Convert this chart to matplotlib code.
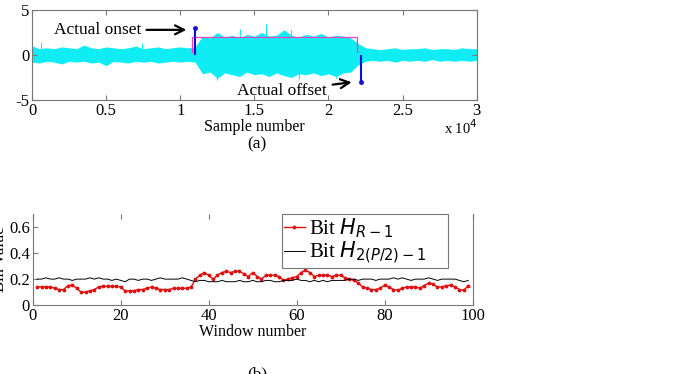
import numpy as np
import matplotlib.pyplot as plt

plt.rcParams['font.family'] = ['Liberation Serif', 'DejaVu Serif']
plt.rcParams['mathtext.fontset'] = 'dejavusans'
plt.rcParams['axes.unicode_minus'] = False

# (a) signal envelope, read every 500 samples
sample_step = 500
upper_env = [1.0, 0.7, 0.8, 0.7, 0.9, 0.8, 0.7, 1.1, 0.8, 0.7, 0.9, 0.8, 0.7, 0.8, 1.0, 0.7,
             0.8, 0.9, 0.7, 0.8, 0.9, 0.8,
             0.9, 2.1, 1.9, 2.5, 2.0, 2.2, 1.9, 2.3, 2.1, 2.5, 2.1, 2.2, 2.8, 2.2, 2.0, 2.3,
             2.1, 2.4, 2.0, 2.2, 2.1, 1.9, 1.3,
             0.8, 0.7, 0.6, 0.7, 0.8, 0.6, 0.7, 0.7, 0.8, 0.6, 0.7, 0.7, 0.6, 0.8, 0.7, 0.7]
lower_env = [-0.8, -0.9, -0.7, -0.8, -1.0, -0.7, -0.8, -0.7, -0.9, -0.8, -1.2, -0.7, -0.8, -0.9,
             -0.7, -0.8, -0.7, -0.9, -0.8, -0.7, -0.8, -0.7,
             -0.8, -2.1, -1.9, -2.6, -2.0, -2.2, -2.4, -1.9, -2.2, -2.1, -2.4, -2.0, -2.3, -2.5,
             -2.1, -2.2, -2.0, -2.3, -2.1, -2.4, -2.0, -1.9, -1.1,
             -0.7, -0.6, -0.7, -0.6, -0.8, -0.6, -0.7, -0.6, -0.7, -0.5, -0.7, -0.6, -0.7, -0.6,
             -0.7, -0.6]
spike_x = [600, 7400, 12500, 14000, 15800, 17500, 18000, 20500]
spike_y = [1.4, 1.3, -2.8, 2.9, 3.4, 2.8, -2.7, -2.6]
rect_x = [10800, 10800, 21900, 21900]
rect_y = [0.3, 2.0, 2.0, 0.3]
onset_x, onset_y = 11000, 3.0
offset_x, offset_y = 22200, -3.0

# (b) bin values per window
windows = np.arange(1, 100)
bin_r = [0.14, 0.14, 0.14, 0.14, 0.13, 0.12, 0.12, 0.15, 0.155, 0.13,
         0.10, 0.10, 0.11, 0.12, 0.14, 0.145, 0.145, 0.145, 0.145, 0.14,
         0.11, 0.11, 0.11, 0.12, 0.12, 0.13, 0.14, 0.13, 0.12, 0.12,
         0.12, 0.13, 0.13, 0.13, 0.13, 0.14, 0.20, 0.23, 0.25, 0.23,
         0.20, 0.23, 0.25, 0.26, 0.25, 0.26, 0.26, 0.24, 0.22, 0.25,
         0.22, 0.20, 0.23, 0.23, 0.23, 0.22, 0.19, 0.20, 0.21, 0.22,
         0.25, 0.27, 0.25, 0.22, 0.23, 0.23, 0.23, 0.22, 0.23, 0.23,
         0.21, 0.20, 0.19, 0.17, 0.14, 0.13, 0.12, 0.12, 0.13, 0.155,
         0.14, 0.12, 0.115, 0.13, 0.14, 0.14, 0.14, 0.13, 0.15, 0.17,
         0.16, 0.14, 0.14, 0.15, 0.155, 0.14, 0.12, 0.115, 0.15]
bin_p = [0.20, 0.20, 0.21, 0.20, 0.20, 0.21, 0.20, 0.20, 0.19, 0.20,
         0.20, 0.20, 0.21, 0.20, 0.21, 0.20, 0.20, 0.19, 0.20, 0.19,
         0.18, 0.20, 0.20, 0.19, 0.20, 0.20, 0.19, 0.20, 0.21, 0.20,
         0.20, 0.20, 0.20, 0.21, 0.20, 0.19, 0.18, 0.19, 0.19, 0.18,
         0.18, 0.18, 0.19, 0.18, 0.18, 0.18, 0.19, 0.18, 0.18, 0.19,
         0.18, 0.18, 0.19, 0.19, 0.18, 0.18, 0.19, 0.19, 0.19, 0.20,
         0.19, 0.19, 0.18, 0.19, 0.18, 0.19, 0.18, 0.19, 0.19, 0.19,
         0.19, 0.20, 0.20, 0.19, 0.20, 0.20, 0.20, 0.19, 0.20, 0.20,
         0.20, 0.21, 0.20, 0.21, 0.20, 0.19, 0.20, 0.20, 0.20, 0.21,
         0.20, 0.19, 0.20, 0.20, 0.20, 0.20, 0.19, 0.18, 0.19]

fig = plt.figure(figsize=(6.82, 3.74), dpi=100)
grey = '#777777'
cyan = '#10ecf4'

# ---- (a) ----
ax1 = fig.add_axes([0.047, 0.733, 0.652, 0.24])
xs = np.arange(len(upper_env)) * sample_step
ax1.fill_between(xs, lower_env, upper_env, color=cyan, lw=0)
ax1.vlines(spike_x, 0, spike_y, color=cyan, lw=0.8)
ax1.plot(rect_x, rect_y, color='#f040c0', lw=0.9)
ax1.vlines([onset_x, offset_x], 0, [onset_y, offset_y], color='#1010d0', lw=1.5)
ax1.plot([onset_x, offset_x], [onset_y, offset_y], '.', color='#1010d0', ms=5)
ax1.annotate('Actual onset', xy=(10600, 2.8), xytext=(7350, 2.8),
             fontsize=12.5, ha='right', va='center',
             arrowprops=dict(arrowstyle='->', color='black', lw=1.6, mutation_scale=16))
ax1.annotate('Actual offset', xy=(21750, -3.0), xytext=(19900, -4.0),
             fontsize=12.5, ha='right', va='center',
             arrowprops=dict(arrowstyle='->', color='black', lw=1.6, mutation_scale=16))
ax1.set_xlim(0, 30000)
ax1.set_ylim(-5, 5)
ax1.set_xticks(np.arange(0, 30001, 5000))
ax1.set_xticklabels(['0', '0.5', '1', '1.5', '2', '2.5', '3'])
ax1.set_yticks([-5, 0, 5])
ax1.tick_params(direction='in', top=True, right=True, labelsize=12, color=grey, pad=2)
for s in ax1.spines.values():
    s.set_color(grey)
    s.set_linewidth(0.8)
ax1.set_xlabel('Sample number', fontsize=11.5, labelpad=0)
fig.text(0.70, 0.635, r'x 10$^{4}$', fontsize=10.5, ha='right', va='bottom')
fig.text(0.377, 0.615, '(a)', fontsize=12.5, ha='center', va='center')

# ---- (b) ----
ax2 = fig.add_axes([0.048, 0.184, 0.645, 0.244])
ax2.plot(windows, bin_r, '-', color='#e01010', marker='.', ms=3.5, lw=1.0,
         label=r'Bit $H_{R-1}$')
ax2.plot(windows, bin_p, '-', color='black', lw=0.7, label=r'Bit $H_{2(P/2)-1}$')
ax2.set_xlim(0, 100)
ax2.set_ylim(0, 0.7)
ax2.set_xticks([0, 20, 40, 60, 80, 100])
ax2.set_yticks([0, 0.2, 0.4, 0.6])
ax2.set_yticklabels(['0', '0.2', '0.4', '0.6'])
ax2.tick_params(direction='in', top=True, labelsize=12, color=grey, pad=2)
for s in ax2.spines.values():
    s.set_color(grey)
    s.set_linewidth(0.8)
ax2.spines['top'].set_visible(False)
ax2.set_xlabel('Window number', fontsize=11.5, labelpad=0)
ax2.set_ylabel('Bin Value', fontsize=12)
ax2.yaxis.set_label_coords(-0.057, 0.5)
leg = ax2.legend(loc='upper left', bbox_to_anchor=(0.566, 0.5, 0.377, 0.5), mode='expand',
                 fontsize=15, fancybox=False, framealpha=1, edgecolor=grey, borderpad=0.1,
                 handlelength=1.0, handletextpad=0.2, labelspacing=0.0,
                 borderaxespad=0)
leg.get_frame().set_linewidth(0.8)
fig.text(0.377, 0.0, '(b)', fontsize=12.5, ha='center', va='center')

fig.savefig('out.png', dpi=100)
